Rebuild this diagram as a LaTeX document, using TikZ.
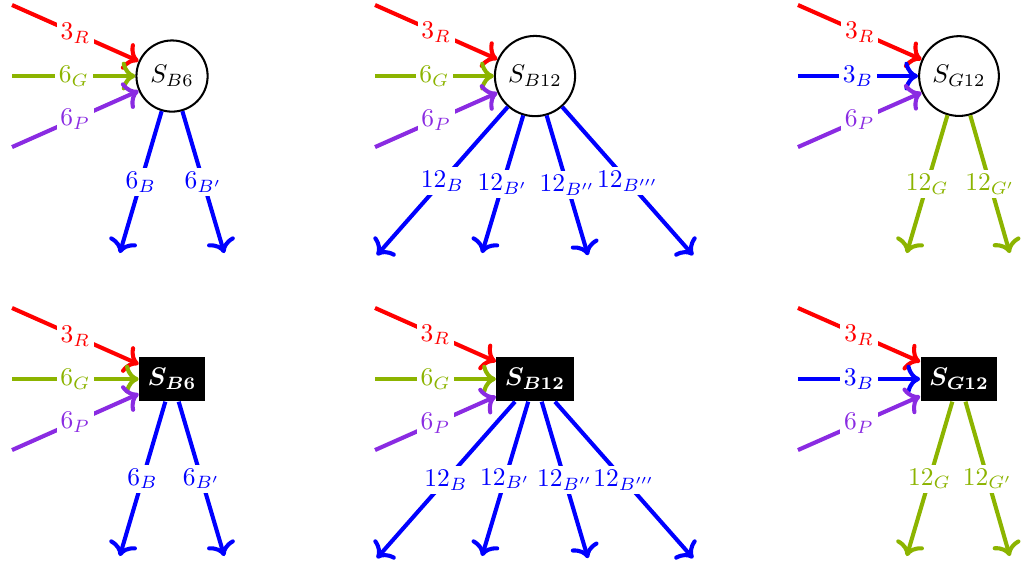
\documentclass[tikz,border=0pt]{standalone}
\usepackage{amsmath}
\usetikzlibrary{arrows.meta}
\definecolor{ggreen}{RGB}{140,180,0}
\definecolor{ppurple}{RGB}{138,43,226}
\tikzset{
  sphere/.style={circle,draw,thick},
  sbox/.style={rectangle,fill=black,text=white,inner ysep=4.5pt},
  flow/.style={-{Computer Modern Rightarrow[scale=1.05]},line width=1.6pt},
  lbl/.style={fill=white,inner sep=1.5pt},
}
\begin{document}
\begin{tikzpicture}
\useasboundingbox (0,0) rectangle (14.1,7.774);
% top row
\begin{scope}[shift={(2.371,6.726)}]
\node[sphere] (b6) at (0,0) {$S_{B6}$};
\coordinate (b6r) at (-2.205,0.979);
\coordinate (b6g) at (-2.205,0);
\coordinate (b6p) at (-2.205,-0.979);
\coordinate (b6o1) at (-0.72,-2.44);
\coordinate (b6o2) at (0.72,-2.44);
\draw[flow,red] (b6r) -- node[lbl] {$3_R$} (b6);
\draw[flow,ggreen] (b6g) -- node[lbl] {$6_G$} (b6);
\draw[flow,ppurple] (b6p) -- node[lbl] {$6_P$} (b6);
\draw[flow,blue] (b6) -- node[lbl] {$6_B$} (b6o1);
\draw[flow,blue] (b6) -- node[lbl] {$6_{B'}$} (b6o2);
\end{scope}
\begin{scope}[shift={(7.374,6.726)}]
\node[sphere] (b12) at (0,0) {$S_{B12}$};
\coordinate (b12r) at (-2.205,0.979);
\coordinate (b12g) at (-2.205,0);
\coordinate (b12p) at (-2.205,-0.979);
\coordinate (b12o1) at (-2.18,-2.47);
\coordinate (b12o2) at (-0.73,-2.44);
\coordinate (b12o3) at (0.73,-2.47);
\coordinate (b12o4) at (2.18,-2.47);
\draw[flow,red] (b12r) -- node[lbl] {$3_R$} (b12);
\draw[flow,ggreen] (b12g) -- node[lbl] {$6_G$} (b12);
\draw[flow,ppurple] (b12p) -- node[lbl] {$6_P$} (b12);
\draw[flow,blue] (b12) -- node[lbl] {$12_B$} (b12o1);
\draw[flow,blue] (b12) -- node[lbl] {$12_{B'}$} (b12o2);
\draw[flow,blue] (b12) -- node[lbl] {$12_{B''}$} (b12o3);
\draw[flow,blue] (b12) -- node[lbl] {$12_{B'''}$} (b12o4);
\end{scope}
\begin{scope}[shift={(13.218,6.726)}]
\node[sphere] (g12) at (0,0) {$S_{G12}$};
\coordinate (g12r) at (-2.22,0.979);
\coordinate (g12b) at (-2.22,0);
\coordinate (g12p) at (-2.22,-0.979);
\coordinate (g12o1) at (-0.72,-2.44);
\coordinate (g12o2) at (0.70,-2.44);
\draw[flow,red] (g12r) -- node[lbl] {$3_R$} (g12);
\draw[flow,blue] (g12b) -- node[lbl] {$3_B$} (g12);
\draw[flow,ppurple] (g12p) -- node[lbl] {$6_P$} (g12);
\draw[flow,ggreen] (g12) -- node[lbl] {$12_G$} (g12o1);
\draw[flow,ggreen] (g12) -- node[lbl] {$12_{G'}$} (g12o2);
\end{scope}
% bottom row
\begin{scope}[shift={(2.371,2.55)}]
\node[sbox] (bb6) at (0,0) {$\boldsymbol{S_{B6}}$};
\coordinate (bb6r) at (-2.205,0.979);
\coordinate (bb6g) at (-2.205,0);
\coordinate (bb6p) at (-2.205,-0.979);
\coordinate (bb6o1) at (-0.72,-2.44);
\coordinate (bb6o2) at (0.72,-2.44);
\draw[flow,red] (bb6r) -- node[lbl] {$3_R$} (bb6);
\draw[flow,ggreen] (bb6g) -- node[lbl] {$6_G$} (bb6);
\draw[flow,ppurple] (bb6p) -- node[lbl] {$6_P$} (bb6);
\draw[flow,blue] (bb6) -- node[lbl] {$6_B$} (bb6o1);
\draw[flow,blue] (bb6) -- node[lbl] {$6_{B'}$} (bb6o2);
\end{scope}
\begin{scope}[shift={(7.374,2.55)}]
\node[sbox] (bb12) at (0,0) {$\boldsymbol{S_{B12}}$};
\coordinate (bb12r) at (-2.205,0.979);
\coordinate (bb12g) at (-2.205,0);
\coordinate (bb12p) at (-2.205,-0.979);
\coordinate (bb12o1) at (-2.18,-2.47);
\coordinate (bb12o2) at (-0.73,-2.44);
\coordinate (bb12o3) at (0.73,-2.47);
\coordinate (bb12o4) at (2.18,-2.47);
\draw[flow,red] (bb12r) -- node[lbl] {$3_R$} (bb12);
\draw[flow,ggreen] (bb12g) -- node[lbl] {$6_G$} (bb12);
\draw[flow,ppurple] (bb12p) -- node[lbl] {$6_P$} (bb12);
\draw[flow,blue] (bb12) -- node[lbl] {$12_B$} (bb12o1);
\draw[flow,blue] (bb12) -- node[lbl] {$12_{B'}$} (bb12o2);
\draw[flow,blue] (bb12) -- node[lbl] {$12_{B''}$} (bb12o3);
\draw[flow,blue] (bb12) -- node[lbl] {$12_{B'''}$} (bb12o4);
\end{scope}
\begin{scope}[shift={(13.218,2.55)}]
\node[sbox] (bg12) at (0,0) {$\boldsymbol{S_{G12}}$};
\coordinate (bg12r) at (-2.22,0.979);
\coordinate (bg12b) at (-2.22,0);
\coordinate (bg12p) at (-2.22,-0.979);
\coordinate (bg12o1) at (-0.72,-2.44);
\coordinate (bg12o2) at (0.70,-2.44);
\draw[flow,red] (bg12r) -- node[lbl] {$3_R$} (bg12);
\draw[flow,blue] (bg12b) -- node[lbl] {$3_B$} (bg12);
\draw[flow,ppurple] (bg12p) -- node[lbl] {$6_P$} (bg12);
\draw[flow,ggreen] (bg12) -- node[lbl] {$12_G$} (bg12o1);
\draw[flow,ggreen] (bg12) -- node[lbl] {$12_{G'}$} (bg12o2);
\end{scope}
\end{tikzpicture}
\end{document}
